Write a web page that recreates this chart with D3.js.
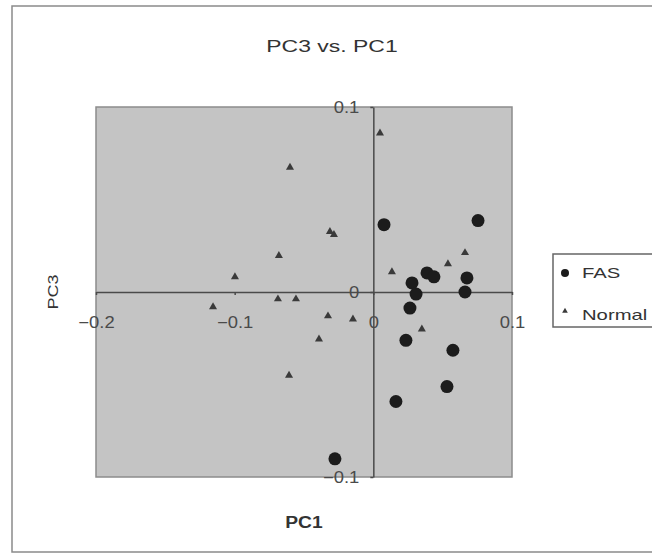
<!DOCTYPE html>
<html lang="en">

<head>
    <meta charset="UTF-8" />
    <title>PC3 vs. PC1</title>
    <script src="https://d3js.org/d3.v7.js"></script>
    <style>
        body { margin: 0; background: #fff; }
        text { font-family: "Liberation Sans", Arial, sans-serif; }
    </style>
</head>

<body>
    <script>
        var w = 652;
        var h = 556;

        // PC1 / PC3 scores
        var fasX = [0.0077, 0.0755, 0.0387, 0.0437, 0.0279, 0.0308, 0.0675, 0.0661, 0.0264, 0.0235, 0.0574, 0.0531, 0.0163, -0.0277];
        var fasY = [0.0364, 0.0386, 0.0103, 0.0082, 0.0049, -0.0011, 0.0076, 0.0000, -0.0087, -0.0261, -0.0315, -0.0511, -0.0592, -0.0902];
        var normalX = [0.0048, -0.0601, -0.0313, -0.0284, -0.0681, -0.0998, 0.0134, 0.0538, 0.0661, -0.0688, -0.0558, -0.1156, -0.0327, -0.0147, 0.0350, -0.0392, -0.0608];
        var normalY = [0.0859, 0.0674, 0.0326, 0.0310, 0.0196, 0.0082, 0.0109, 0.0152, 0.0212, -0.0038, -0.0038, -0.0081, -0.0130, -0.0147, -0.0201, -0.0255, -0.0451];
        var xTicks = [-0.2, -0.1, 0, 0.1];
        var yTicks = [-0.1, 0, 0.1];
        var seriesNames = ["FAS", "Normal"];

        var plot = { left: 96, right: 512, top: 107, bottom: 477 };

        var svg = d3.select("body")
            .append("svg")
            .attr("width", w)
            .attr("height", h);

        // stretch text horizontally a bit, the scan is wide
        function stretch(sel, k) {
            sel.each(function () {
                var len = this.getComputedTextLength();
                d3.select(this)
                    .attr("textLength", len * k)
                    .attr("lengthAdjust", "spacingAndGlyphs");
            });
        }

        // chart border
        svg.append("rect")
            .attr("x", 12)
            .attr("y", 6)
            .attr("width", 660)
            .attr("height", 546)
            .attr("fill", "none")
            .attr("stroke", "#8a8a8a")
            .attr("stroke-width", 1.5);

        var xScale = d3.scaleLinear()
            .domain([-0.2, 0.1])
            .range([plot.left, plot.right]);

        var yScale = d3.scaleLinear()
            .domain([-0.1, 0.1])
            .range([plot.bottom, plot.top]);

        // plot area
        svg.append("rect")
            .attr("x", plot.left)
            .attr("y", plot.top)
            .attr("width", plot.right - plot.left)
            .attr("height", plot.bottom - plot.top)
            .attr("fill", "#c4c4c4")
            .attr("stroke", "#8c8c8c")
            .attr("stroke-width", 1.5);

        var xAxis = svg.append("g")
            .attr("transform", "translate(0," + yScale(0) + ")")
            .call(d3.axisBottom(xScale)
                .tickValues(xTicks)
                .tickSize(3)
                .tickSizeOuter(0)
                .tickFormat(d3.format("")));

        var yAxis = svg.append("g")
            .attr("transform", "translate(" + xScale(0) + ",0)")
            .call(d3.axisLeft(yScale)
                .tickValues(yTicks)
                .tickSize(3)
                .tickSizeOuter(0)
                .tickFormat(d3.format("")));

        svg.selectAll(".domain, .tick line")
            .attr("stroke", "#4a4a4a")
            .attr("stroke-width", 1.5);

        xAxis.selectAll("text")
            .attr("y", 36)
            .attr("dy", 0)
            .attr("font-size", 16)
            .attr("fill", "#4a4a4a");

        yAxis.selectAll("text")
            .attr("x", -14)
            .attr("dy", "0.35em")
            .attr("font-size", 16)
            .attr("fill", "#4a4a4a");

        stretch(svg.selectAll(".tick text"), 1.15);

        // Normal points
        svg.selectAll(".normal")
            .data(d3.range(normalX.length))
            .enter()
            .append("path")
            .attr("class", "normal")
            .attr("d", d3.symbol().type(d3.symbolTriangle).size(28))
            .attr("transform", function (i) {
                return "translate(" + xScale(normalX[i]) + "," + yScale(normalY[i]) + ")";
            })
            .attr("fill", "#3a3a3a");

        // FAS points
        svg.selectAll(".fas")
            .data(d3.range(fasX.length))
            .enter()
            .append("circle")
            .attr("class", "fas")
            .attr("cx", function (i) { return xScale(fasX[i]); })
            .attr("cy", function (i) { return yScale(fasY[i]); })
            .attr("r", 6.5)
            .attr("fill", "#1c1c1c");

        // title and axis titles
        svg.append("text")
            .attr("x", 332)
            .attr("y", 52)
            .attr("text-anchor", "middle")
            .attr("font-size", 17)
            .attr("fill", "#333")
            .text("PC3 vs. PC1")
            .call(stretch, 1.35);

        svg.append("text")
            .attr("x", 304)
            .attr("y", 528)
            .attr("text-anchor", "middle")
            .attr("font-size", 16)
            .attr("font-weight", "bold")
            .attr("fill", "#333")
            .text("PC1")
            .call(stretch, 1.2);

        svg.append("text")
            .attr("transform", "translate(58,292) rotate(-90)")
            .attr("text-anchor", "middle")
            .attr("font-size", 15)
            .attr("fill", "#333")
            .text("PC3")
            .call(stretch, 1.2);

        // legend
        var legend = svg.append("g");

        legend.append("rect")
            .attr("x", 553)
            .attr("y", 254)
            .attr("width", 120)
            .attr("height", 73)
            .attr("fill", "#fff")
            .attr("stroke", "#666")
            .attr("stroke-width", 1.5);

        legend.append("circle")
            .attr("cx", 565)
            .attr("cy", 273)
            .attr("r", 4)
            .attr("fill", "#1c1c1c");

        legend.append("path")
            .attr("d", d3.symbol().type(d3.symbolTriangle).size(14))
            .attr("transform", "translate(565,311)")
            .attr("fill", "#3a3a3a");

        legend.selectAll(".lbl")
            .data(seriesNames)
            .enter()
            .append("text")
            .attr("class", "lbl")
            .attr("x", 582)
            .attr("y", function (d, i) { return 278 + i * 42; })
            .attr("font-size", 15)
            .attr("fill", "#333")
            .text(function (d) { return d; })
            .call(stretch, 1.35);
    </script>
</body>

</html>
